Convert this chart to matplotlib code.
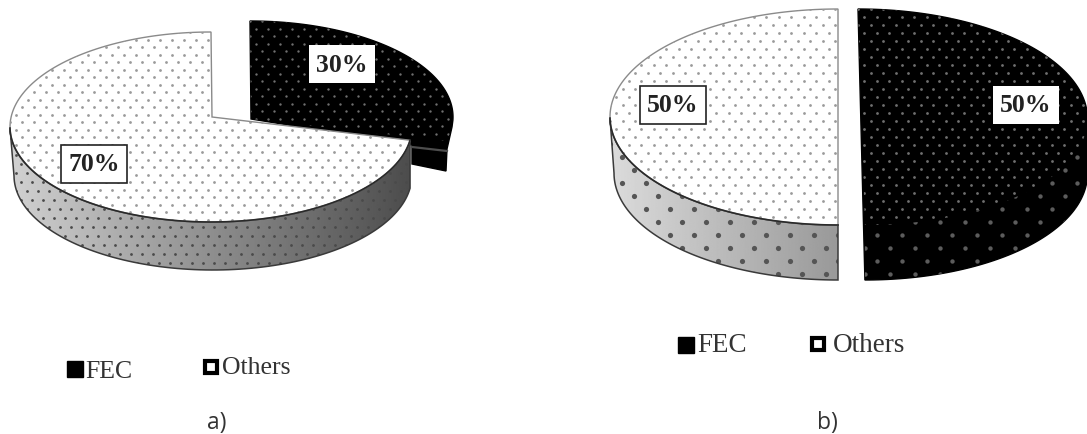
import numpy as np
import matplotlib
matplotlib.use("Agg")
import matplotlib.pyplot as plt
from matplotlib.patches import Polygon, Rectangle

categories = ["FEC", "Others"]
shares_a = [30, 70]
shares_b = [50, 50]
panel_labels = ["a)", "b)"]

SERIF = "Liberation Serif"
W, H = 1087, 435
fig = plt.figure(figsize=(W / 100, H / 100), dpi=100)
ax = fig.add_axes([0, 0, 1, 1])


def rim(cx, cy, rx, ry, a0, a1, n=160, shear=0.0):
    t = np.radians(np.linspace(a0, a1, n))
    x = cx + rx * np.sin(t)
    y = cy - ry * np.cos(t)
    return np.column_stack([x + shear * (y - (cy - ry)), y])


def dots(patch, step, rowh, size, color, alpha=1.0):
    x0, y0 = patch.get_xy().min(axis=0)
    x1, y1 = patch.get_xy().max(axis=0)
    ys = np.arange(y0, y1 + rowh, rowh)
    xs, yy = [], []
    for i, y in enumerate(ys):
        row = np.arange(x0 + (i % 2) * step / 2, x1 + step, step)
        xs.append(row)
        yy.append(np.full(row.shape, y))
    sc = ax.scatter(np.concatenate(xs), np.concatenate(yy), s=size, c=color,
                    alpha=alpha, linewidths=0, zorder=patch.get_zorder() + 0.1)
    sc.set_clip_path(patch)


def gradient_side(poly, g0, g1, z):
    p = Polygon(poly, closed=True, fc="none", ec="none", zorder=z)
    ax.add_patch(p)
    x0, y0 = poly.min(axis=0)
    x1, y1 = poly.max(axis=0)
    g = np.linspace(g0, g1, 256)[None, :]
    im = ax.imshow(g, extent=[x0, x1, y1, y0], aspect="auto", cmap="gray",
                   vmin=0, vmax=1, zorder=z, interpolation="bilinear")
    im.set_clip_path(p)
    return p


def light_slice(apex, c, rx, ry, a0, depth, g0, g1, step, rowh, size, side_step, side_row, side_size, side_color):
    angles = np.linspace(a0, 360, 160)
    arc = rim(c[0], c[1], rx, ry, a0, 360)
    vis = arc[angles <= 270]
    low = vis[::-1] + np.array([0, depth])
    low[:, 0] += np.linspace(4, 0, len(low))
    side = np.vstack([vis, low])
    p = gradient_side(side, g0, g1, 2)
    dots(p, side_step, side_row, side_size, side_color)
    ax.add_patch(Polygon(side, closed=True, fc="none", ec="#3a3a3a", lw=1.1, zorder=2.5))
    top = Polygon(np.vstack([apex, arc]), closed=True, fc="white", ec="#8a8a8a", lw=1.0, zorder=3)
    ax.add_patch(top)
    dots(top, step, rowh, size, "#9a9a9a")
    ax.plot(vis[:, 0], vis[:, 1], color="#2a2a2a", lw=1.2, zorder=3.5)


# ---- panel a
a_black = shares_a[0] / sum(shares_a) * 360
black_arc = rim(250, 118, 203, 96, 0, a_black)
outline = np.vstack([[[251, 120]], rim(250, 118, 203, 96, 0, 92),
                     [[452, 128], [447, 150], [446, 172], [412, 165], [412, 146]]])
ax.add_patch(Polygon(outline, closed=True, fc="black", ec="black", lw=1, zorder=1))
top_clip = Polygon(np.vstack([[[251, 120]], black_arc[:-1], [[447, 142]]]), closed=True,
                   fc="none", ec="none", zorder=1)
ax.add_patch(top_clip)
dots(top_clip, 12, 7.5, 3, "#6f6f6f")
ax.plot([412, 447], [148, 152], color="#4d4d4d", lw=1.6, zorder=1.5)

light_slice(np.array([[212, 118]]), (211, 128), 201, 95, a_black - 10, 48, 0.82, 0.3,
            12, 7.5, 4, 11, 9, 4, "#4a4a4a")

# ---- panel b
b_white = shares_b[0] / sum(shares_b) * 360
light_slice(np.array([[838, 118]]), (838, 118), 228, 108, b_white, 55, 0.86, 0.6,
            12.5, 8, 4, 24, 13, 14, "#555555")

arc_b = rim(858, 118, 226, 108, 0, shares_b[1] / sum(shares_b) * 360, shear=0.032)
low_b = arc_b + np.array([0, 55])
mask = np.linspace(0, 180, len(arc_b)) >= 90
black_b = np.vstack([arc_b[~mask], low_b[mask]])
ax.add_patch(Polygon(black_b, closed=True, fc="black", ec="black", lw=1, zorder=1))
top_b = Polygon(arc_b, closed=True, fc="none", ec="none", zorder=1)
ax.add_patch(top_b)
dots(top_b, 12.5, 8, 4, "#6f6f6f")
side_b = Polygon(np.vstack([arc_b[mask], low_b[mask][::-1]]), closed=True, fc="none", ec="none", zorder=1)
ax.add_patch(side_b)
dots(side_b, 25, 13, 10, "#5c5c5c")

# ---- value labels
label_pos = [(342, 65, shares_a[0], "none"), (94, 165, shares_a[1], "#222222"),
             (1026, 106, shares_b[0], "none"), (673, 106, shares_b[1], "#222222")]
for x, y, v, ec in label_pos:
    ax.text(x, y, f"{v}%", family=SERIF, weight="bold", fontsize=18.5, color="#222222",
            ha="center", va="center", zorder=6,
            bbox=dict(boxstyle="square,pad=0.3", fc="white", ec=ec, lw=1.2))

# ---- legends
legend_xy = [((67, 362), (85, 372), (205, 362), (222, 368), 18.5),
             ((678, 338), (697, 346), (812, 339), (833, 346), 19.5)]
for (m0, t0, m1, t1, fs) in legend_xy:
    ax.add_patch(Rectangle(m0, 16, 16, fc="black", ec="black", zorder=5))
    ax.text(t0[0], t0[1], categories[0], family=SERIF, fontsize=fs, color="#333333",
            ha="left", va="center")
    ax.add_patch(Rectangle(m1, 12, 12, fc="white", ec="black", lw=3, zorder=5))
    ax.text(t1[0], t1[1], categories[1], family=SERIF, fontsize=fs, color="#333333",
            ha="left", va="center")

for x, s in zip((217, 827), panel_labels):
    ax.text(x, 423, s, family="Open Sans", fontsize=16.5, color="#333333", ha="center", va="center")

ax.set_xlim(0, W)
ax.set_ylim(H, 0)
ax.axis("off")
fig.savefig("out.png", dpi=100)
